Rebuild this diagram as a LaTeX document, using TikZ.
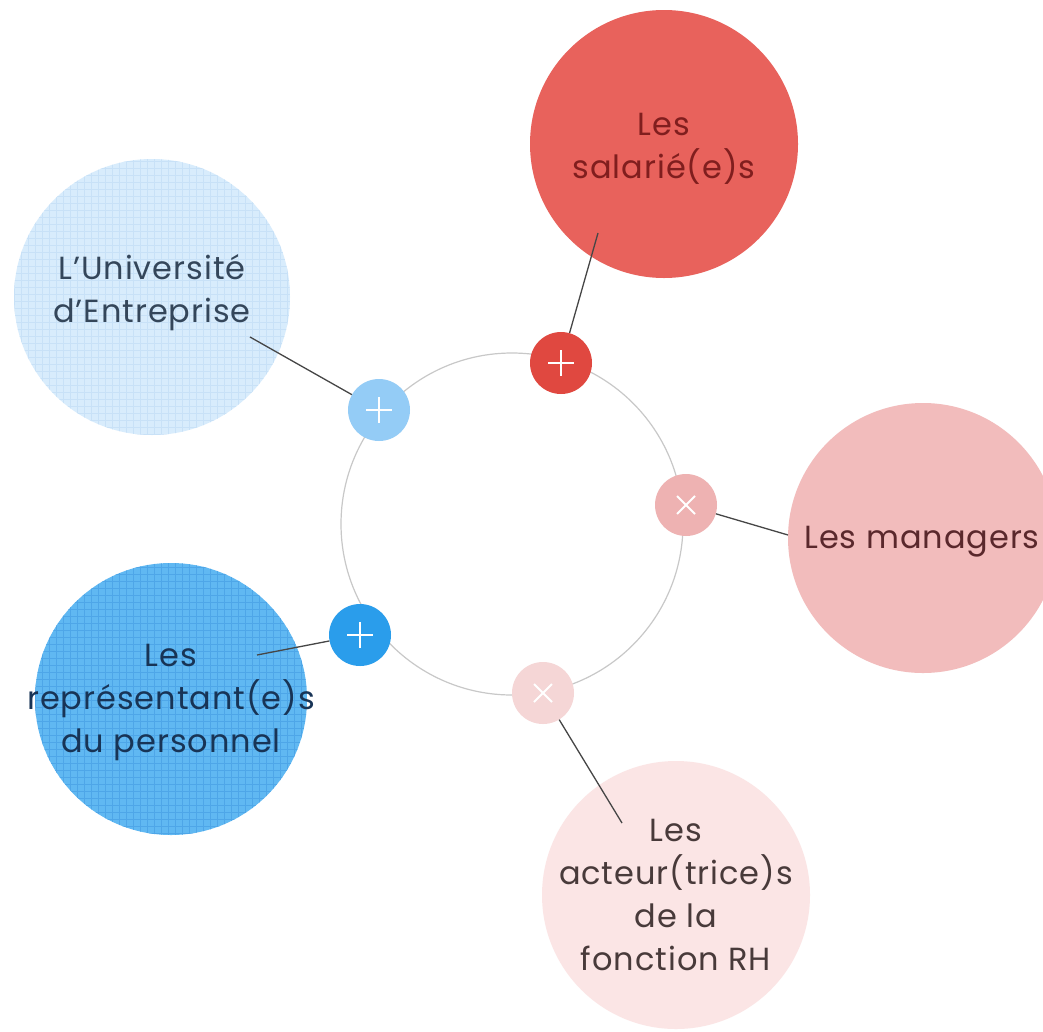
\documentclass[tikz,border=0pt]{standalone}
\usepackage{fontspec}
\setmainfont[LetterSpace=3]{Poppins}
\definecolor{salbig}{RGB}{232,98,92}
\definecolor{salsm}{RGB}{224,72,64}
\definecolor{saltx}{RGB}{128,30,30}
\definecolor{unibig}{RGB}{216,236,252}
\definecolor{unigrid}{RGB}{200,225,247}
\definecolor{unism}{RGB}{148,204,246}
\definecolor{unitx}{RGB}{52,70,90}
\definecolor{manbig}{RGB}{242,188,188}
\definecolor{mansm}{RGB}{238,178,178}
\definecolor{mantx}{RGB}{90,40,44}
\definecolor{repbig}{RGB}{96,184,242}
\definecolor{repgrid}{RGB}{78,166,232}
\definecolor{repsm}{RGB}{42,157,235}
\definecolor{reptx}{RGB}{24,52,86}
\definecolor{actbig}{RGB}{251,229,229}
\definecolor{actsm}{RGB}{245,214,214}
\definecolor{acttx}{RGB}{72,58,58}
\definecolor{ringcol}{RGB}{200,200,200}
\definecolor{linkcol}{RGB}{70,70,70}
\tikzset{
  bigc/.style={circle, draw=none, inner sep=0pt, minimum size=#1},
  smallc/.style={circle, draw=none, inner sep=0pt, minimum size=62pt},
  txt/.style={align=center, inner sep=0pt, font=\fontsize{32}{43}\selectfont},
  link/.style={draw=linkcol, line width=1.3pt},
  signmark/.style={draw=white, line width=2.2pt},
}
\begin{document}
\begin{tikzpicture}[x=1pt,y=-1pt]
\useasboundingbox (0,0) rectangle (1043,1031);
\fill[white] (0,0) rectangle (1043,1031);
% central ring
\node[circle, draw=ringcol, line width=1.2pt, inner sep=0pt, minimum size=342pt] (ring) at (512,524) {};
% big circles
\node[bigc=268pt, fill=salbig] (sal) at (664,144) {};
\node[bigc=276pt, fill=unibig] (uni) at (152,297) {};
\begin{scope}
  \clip (152,297) circle (138);
  \draw[unigrid, line width=0.9pt, xstep=7pt, ystep=7pt] (10,155) grid (300,440);
\end{scope}
\node[bigc=270pt, fill=manbig] (man) at (923,538) {};
\node[bigc=272pt, fill=repbig] (rep) at (171,699) {};
\begin{scope}
  \clip (171,699) circle (136);
  \draw[repgrid, line width=0.9pt, xstep=7pt, ystep=7pt] (30,558) grid (312,840);
\end{scope}
\node[bigc=268pt, fill=actbig] (act) at (676,895) {};
% small circles
\node[smallc, fill=salsm] (salsm) at (561,363) {};
\node[smallc, fill=unism] (unism) at (379,410) {};
\node[smallc, fill=mansm] (mansm) at (686,505) {};
\node[smallc, fill=repsm] (repsm) at (360,635) {};
\node[smallc, fill=actsm] (actsm) at (543,693) {};
% connector start points
\coordinate (salp) at (598,233);
\coordinate (unip) at (250,337);
\coordinate (manp) at (788,535);
\coordinate (repp) at (257,655);
\coordinate (actp) at (622,823);
% connectors
\draw[link] (salp) -- (salsm);
\draw[link] (unip) -- (unism);
\draw[link] (manp) -- (mansm);
\draw[link] (repp) -- (repsm);
\draw[link] (actp) -- (actsm);
% plus / cross marks
\draw[signmark] ([xshift=-13pt]salsm.center) -- ([xshift=13pt]salsm.center);
\draw[signmark] ([yshift=-13pt]salsm.center) -- ([yshift=13pt]salsm.center);
\draw[signmark] ([xshift=-13pt]unism.center) -- ([xshift=13pt]unism.center);
\draw[signmark] ([yshift=-13pt]unism.center) -- ([yshift=13pt]unism.center);
\draw[signmark] ([xshift=-13pt]repsm.center) -- ([xshift=13pt]repsm.center);
\draw[signmark] ([yshift=-13pt]repsm.center) -- ([yshift=13pt]repsm.center);
\draw[signmark, line width=2pt] ([shift={(-9pt,-9pt)}]mansm.center) -- ([shift={(9pt,9pt)}]mansm.center);
\draw[signmark, line width=2pt] ([shift={(-9pt,9pt)}]mansm.center) -- ([shift={(9pt,-9pt)}]mansm.center);
\draw[signmark, line width=2pt] ([shift={(-9pt,-9pt)}]actsm.center) -- ([shift={(9pt,9pt)}]actsm.center);
\draw[signmark, line width=2pt] ([shift={(-9pt,9pt)}]actsm.center) -- ([shift={(9pt,-9pt)}]actsm.center);
% texts
\node[txt, text=saltx] (salt) at ([yshift=-5pt]sal.center) {Les\\salarié(e)s};
\node[txt, text=unitx] (unit) at ([yshift=4pt]uni.center) {L’Université\\d’Entreprise};
\node[txt, text=mantx] (mant) at (922,542) {Les managers};
\node[txt, text=reptx] (rept) at ([yshift=-3pt]rep.center) {Les\\représentant(e)s\\du personnel};
\node[txt, text=acttx] (actt) at (act.center) {Les\\acteur(trice)s\\de la\\fonction RH};
\end{tikzpicture}
\end{document}
